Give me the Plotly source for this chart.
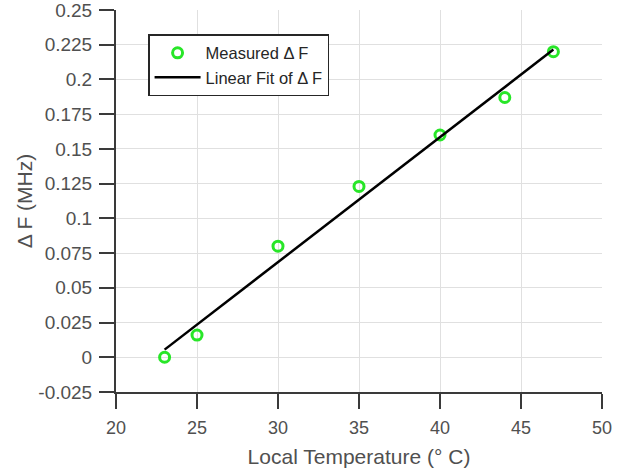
import plotly.graph_objects as go

temp_c = [23, 25, 30, 35, 40, 44, 47]
delta_f = [0.0, 0.016, 0.080, 0.123, 0.160, 0.187, 0.220]
fit_x = [23, 47]
fit_y = [0.0055, 0.2215]

x_ticks = [20, 25, 30, 35, 40, 45, 50]
y_ticks = [-0.025, 0, 0.025, 0.05, 0.075, 0.1, 0.125, 0.15, 0.175, 0.2, 0.225, 0.25]
y_labels = ["-0.025", "0", "0.025", "0.05", "0.075", "0.1", "0.125", "0.15", "0.175", "0.2", "0.225", "0.25"]

font_family = "Liberation Sans, Arial, sans-serif"
tick_color = "#505050"

fig = go.Figure()
fig.add_trace(go.Scatter(
    x=temp_c, y=delta_f, mode="markers", name="Measured Δ F",
    marker=dict(symbol="circle-open", size=10, color="rgb(40,230,40)",
                line=dict(width=3, color="rgb(40,230,40)")),
))
fig.add_trace(go.Scatter(
    x=fit_x, y=fit_y, mode="lines", name="Linear Fit of Δ F",
    line=dict(color="black", width=2.5),
))

axis_common = dict(
    showline=True, linecolor="#3a3a3a", linewidth=2,
    ticks="outside", ticklen=15, tickwidth=2, tickcolor="#3a3a3a",
    showgrid=True, gridcolor="#e0e0e0", gridwidth=1,
    zeroline=False, mirror=False, automargin=False,
    ticklabeloverflow="allow", ticklabelstandoff=3,
)

fig.update_layout(
    width=628, height=473,
    margin=dict(l=116, r=26, t=10, b=81),
    paper_bgcolor="white", plot_bgcolor="white",
    font=dict(family=font_family, color=tick_color),
    xaxis=dict(range=[20, 50], tickvals=x_ticks,
               tickfont=dict(family=font_family, size=18, color=tick_color),
               title=dict(text="Local Temperature (° C)", font=dict(size=21, color=tick_color), standoff=13),
               **axis_common),
    yaxis=dict(range=[-0.025, 0.25], tickvals=y_ticks, ticktext=y_labels,
               tickfont=dict(family=font_family, size=19, color=tick_color),
               title=dict(text="Δ F (MHz)", font=dict(size=21, color=tick_color), standoff=0),
               **axis_common),
    showlegend=True,
    legend=dict(
        x=0.066, y=0.937, xanchor="left", yanchor="top",
        bgcolor="white", bordercolor="#262626", borderwidth=1.5,
        font=dict(family=font_family, size=16.5, color="#262626"),
        itemwidth=46, tracegroupgap=0,
    ),
)

fig.write_html("out.html", config={"displayModeBar": False},
               post_script="document.body.style.margin='0';")
